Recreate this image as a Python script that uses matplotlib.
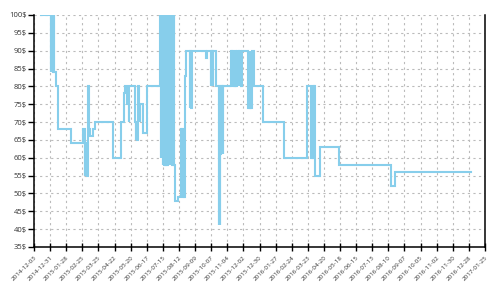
"""
Price history step chart (price in $ over time), redrawn as out.png.
"""

import matplotlib
matplotlib.use("Agg")
import matplotlib.pyplot as plt
import pandas as pd

OUTPUT_PATH = "out.png"

# change dates and the price that holds from that date on
dates = [
    "2014-12-16", "2015-01-01", "2015-01-02", "2015-01-03", "2015-01-04",
    "2015-01-05", "2015-01-06", "2015-01-07", "2015-01-10", "2015-01-13",
    "2015-02-06", "2015-02-26", "2015-03-01", "2015-03-02", "2015-03-03",
    "2015-03-04", "2015-03-05", "2015-03-07", "2015-03-08", "2015-03-11",
    "2015-03-15", "2015-03-19", "2015-04-19", "2015-05-04", "2015-05-08",
    "2015-05-10", "2015-05-14", "2015-05-17", "2015-05-18", "2015-05-28",
    "2015-05-29", "2015-05-30", "2015-05-31", "2015-06-02", "2015-06-03",
    "2015-06-05", "2015-06-06", "2015-06-11", "2015-06-18",
    # dense swings in July
    "2015-07-10", "2015-07-11", "2015-07-12", "2015-07-13", "2015-07-14",
    "2015-07-15", "2015-07-16", "2015-07-17", "2015-07-18", "2015-07-19",
    "2015-07-20", "2015-07-21", "2015-07-22", "2015-07-23", "2015-07-24",
    "2015-07-25", "2015-07-26", "2015-07-27", "2015-07-28", "2015-07-29",
    "2015-07-30", "2015-07-31", "2015-08-01", "2015-08-02", "2015-08-03",
    "2015-08-04",
    "2015-08-05", "2015-08-10", "2015-08-16", "2015-08-17", "2015-08-18",
    "2015-08-19", "2015-08-20", "2015-08-21", "2015-08-22", "2015-08-25",
    "2015-08-31", "2015-09-01", "2015-09-02", "2015-09-04", "2015-09-28",
    "2015-09-29", "2015-10-06", "2015-10-07", "2015-10-08", "2015-10-09",
    "2015-10-10", "2015-10-11", "2015-10-15", "2015-10-20",
    "2015-10-21", "2015-10-22", "2015-10-23", "2015-10-24", "2015-10-25",
    "2015-10-26", "2015-10-27", "2015-10-28",
    "2015-11-11", "2015-11-12", "2015-11-13", "2015-11-14", "2015-11-15",
    "2015-11-16", "2015-11-17", "2015-11-20", "2015-11-21", "2015-11-24",
    "2015-11-25", "2015-11-28", "2015-11-29", "2015-12-10",
    "2015-12-11", "2015-12-12", "2015-12-13", "2015-12-14", "2015-12-15",
    "2015-12-16", "2015-12-17", "2015-12-21",
    "2016-01-05", "2016-02-11", "2016-03-21", "2016-03-29", "2016-03-30",
    "2016-03-31", "2016-04-01", "2016-04-02", "2016-04-03", "2016-04-04",
    "2016-04-05", "2016-04-13", "2016-05-16", "2016-08-14", "2016-08-22",
    "2017-01-01",
]
prices = [
    100, 84, 100, 84, 100,
    84, 100, 84, 80, 68,
    64, 68, 55, 64, 55,
    64, 55, 80, 68, 66,
    68, 70, 60, 70, 78,
    80, 75, 70, 80, 70,
    65, 70, 65, 80, 75,
    70, 75, 67, 80,
    100, 60, 100, 60, 100,
    58, 100, 58, 100, 58,
    100, 58, 100, 58, 100,
    58, 100, 58, 100, 58,
    100, 58, 100, 58, 100,
    58,
    48, 49, 68, 49, 68,
    49, 68, 49, 83, 90,
    74, 90, 74, 90, 88,
    90, 80, 90, 80, 90,
    80, 90, 80, 41,
    80, 41, 61, 80, 61,
    80, 61, 80,
    90, 80, 90, 80, 90,
    80, 90, 80, 90, 80,
    90, 80, 90, 74,
    90, 74, 90, 74, 90,
    74, 90, 80,
    70, 60, 80, 60, 80,
    60, 80, 60, 80, 60,
    55, 63, 58, 52, 56,
    56,
]

x_start = "2014-12-03"
x_end = "2017-01-25"
y_ticks = [35, 40, 45, 50, 55, 60, 65, 70, 75, 80, 85, 90, 95, 100]

LINE_COLOR = "#87CEEB"
TEXT_COLOR = "#333333"


def main():
    plt.rcParams["font.family"] = ["Open Sans", "DejaVu Sans"]

    x = pd.to_datetime(dates)
    fig = plt.figure(figsize=(5, 3), dpi=100)
    ax = fig.add_axes([0.068, 0.177, 0.902, 0.773])

    ax.plot(x, prices, drawstyle="steps-post", color=LINE_COLOR,
            linewidth=1.5, solid_joinstyle="miter")

    ax.set_xlim(pd.Timestamp(x_start), pd.Timestamp(x_end))
    ax.set_ylim(y_ticks[0], y_ticks[-1])

    # ticks every 28 days from the start date
    xticks = pd.date_range(x_start, x_end, freq="28D")
    ax.set_xticks(xticks)
    ax.set_xticklabels([d.strftime("%Y-%m-%d") for d in xticks],
                       rotation=45, ha="right", rotation_mode="anchor",
                       fontsize=4.5, color=TEXT_COLOR)
    ax.set_yticks(y_ticks)
    ax.set_yticklabels([f"{v}$" for v in y_ticks], fontsize=5.5,
                       color=TEXT_COLOR)

    ax.tick_params(axis="x", direction="inout", length=6, width=1,
                   pad=3)
    ax.tick_params(axis="y", direction="out", length=4, width=1, pad=1)

    ax.grid(True, color="#bbbbbb", linestyle=(0, (2, 3)), linewidth=0.8)
    ax.set_axisbelow(True)

    ax.spines["top"].set_visible(False)
    for side in ("left", "bottom", "right"):
        ax.spines[side].set_linewidth(1.1)
        ax.spines[side].set_color("black")

    fig.savefig(OUTPUT_PATH, dpi=100)
    plt.close(fig)


if __name__ == "__main__":
    main()
